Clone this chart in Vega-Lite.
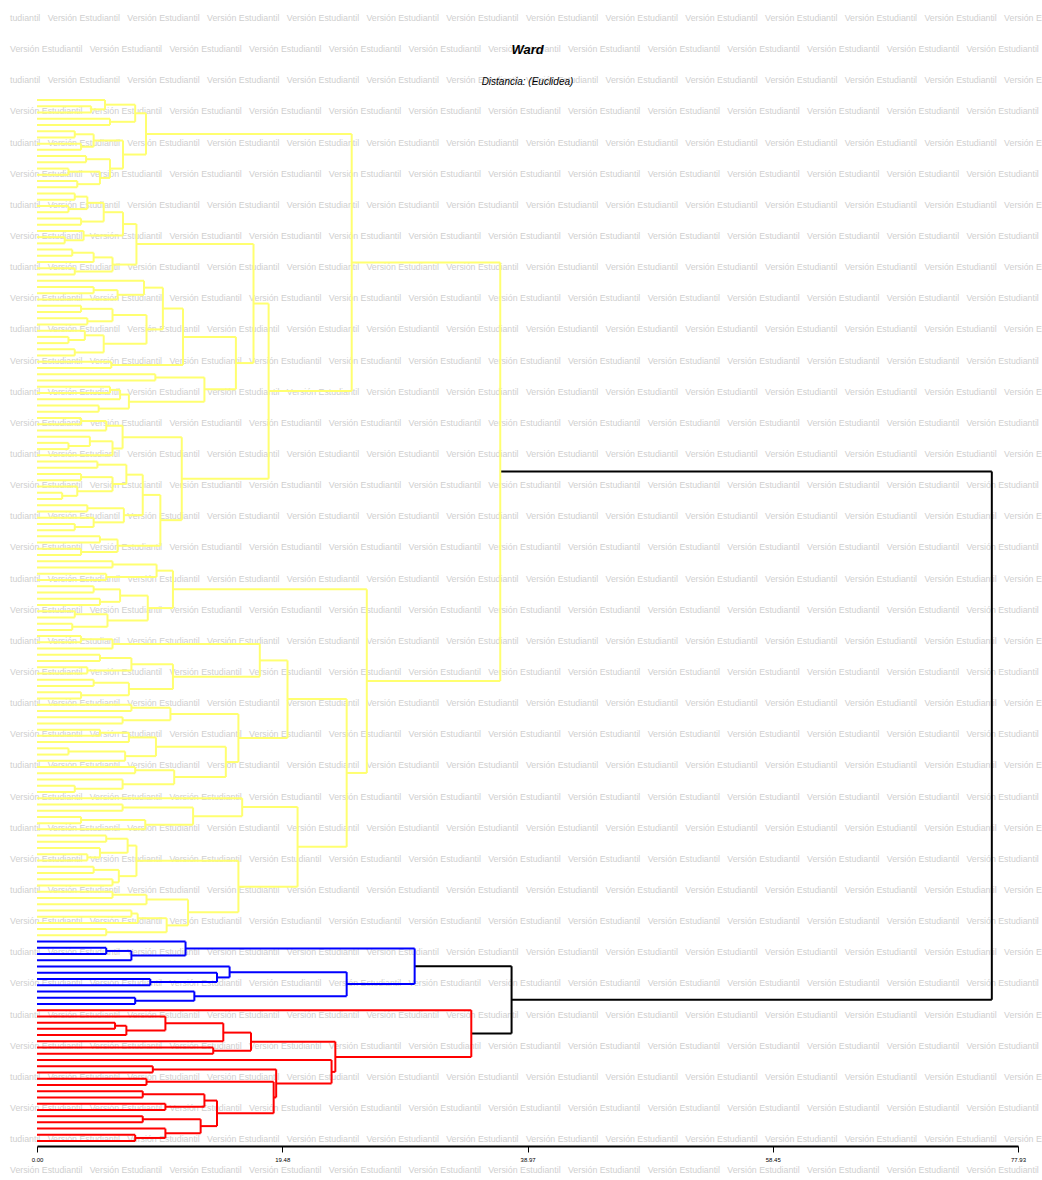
{
"$schema": "https://vega.github.io/schema/vega-lite/v6.json",
"width": 981,
"height": 1049,
"autosize": "none",
"padding": {"left": 37, "top": 97, "right": 24, "bottom": 34},
"background": "white",
"config": {"view": {"stroke": null}},
"title": {"text": "Ward", "subtitle": "Distancia: (Euclidea)", "anchor": "middle", "font": "Liberation Sans", "fontSize": 13, "fontStyle": "italic", "fontWeight": "bold", "color": "black", "subtitleFont": "Liberation Sans", "subtitleFontSize": 10, "subtitleFontStyle": "italic", "subtitleColor": "black", "offset": -73, "subtitlePadding": 20},
"datasets": {
"wmt": [
{"k": "e", "t": "\u00a0\u00a0tudiantil\u00a0\u00a0\u00a0Versión Estudiantil\u00a0\u00a0\u00a0Versión Estudiantil\u00a0\u00a0\u00a0Versión Estudiantil\u00a0\u00a0\u00a0Versión Estudiantil\u00a0\u00a0\u00a0Versión Estudiantil\u00a0\u00a0\u00a0Versión Estudiantil\u00a0\u00a0\u00a0Versión Estudiantil\u00a0\u00a0\u00a0Versión Estudiantil\u00a0\u00a0\u00a0Versión Estudiantil\u00a0\u00a0\u00a0Versión Estudiantil\u00a0\u00a0\u00a0Versión Estudiantil\u00a0\u00a0\u00a0Versión Estudiantil\u00a0\u00a0\u00a0Versión Estudiantil"},
{"k": "o", "t": "Versión Estudiantil\u00a0\u00a0\u00a0Versión Estudiantil\u00a0\u00a0\u00a0Versión Estudiantil\u00a0\u00a0\u00a0Versión Estudiantil\u00a0\u00a0\u00a0Versión Estudiantil\u00a0\u00a0\u00a0Versión Estudiantil\u00a0\u00a0\u00a0Versión Estudiantil\u00a0\u00a0\u00a0Versión Estudiantil\u00a0\u00a0\u00a0Versión Estudiantil\u00a0\u00a0\u00a0Versión Estudiantil\u00a0\u00a0\u00a0Versión Estudiantil\u00a0\u00a0\u00a0Versión Estudiantil\u00a0\u00a0\u00a0Versión Estudiantil\u00a0\u00a0\u00a0Versión Estudiantil"}
],
"wm": [
{"r":0,"k":"e"},{"r":1,"k":"o"},{"r":2,"k":"e"},{"r":3,"k":"o"},{"r":4,"k":"e"},{"r":5,"k":"o"},{"r":6,"k":"e"},{"r":7,"k":"o"},{"r":8,"k":"e"},{"r":9,"k":"o"},
{"r":10,"k":"e"},{"r":11,"k":"o"},{"r":12,"k":"e"},{"r":13,"k":"o"},{"r":14,"k":"e"},{"r":15,"k":"o"},{"r":16,"k":"e"},{"r":17,"k":"o"},{"r":18,"k":"e"},{"r":19,"k":"o"},
{"r":20,"k":"e"},{"r":21,"k":"o"},{"r":22,"k":"e"},{"r":23,"k":"o"},{"r":24,"k":"e"},{"r":25,"k":"o"},{"r":26,"k":"e"},{"r":27,"k":"o"},{"r":28,"k":"e"},{"r":29,"k":"o"},
{"r":30,"k":"e"},{"r":31,"k":"o"},{"r":32,"k":"e"},{"r":33,"k":"o"},{"r":34,"k":"e"},{"r":35,"k":"o"},{"r":36,"k":"e"},{"r":37,"k":"o"}
],
"tree": [
{"p":"root","y":59.6,"h":36.8,"q":75.85,"c":"k"},
{"p":"root","y":144.35,"h":37.7,"q":75.85,"c":"k"},
{"p":"BR","y":138.95,"h":30,"q":37.7,"c":"k"},
{"p":"BR","y":149.75,"h":34.5,"q":37.7,"c":"k"},
{"p":"Y","y":26.07,"h":25,"q":36.8,"c":"y"},
{"p":"Y","y":93.2,"h":26.2,"q":36.8,"c":"y"},
{"p":"U","y":5.44,"h":8.66,"q":25,"c":"y"},
{"p":"U","y":46.7,"h":18.4,"q":25,"c":"y"},
{"p":"U1","y":2.13,"h":7.8,"q":8.66,"c":"y"},
{"p":"U1","y":8.75,"h":6.83,"q":8.66,"c":"y"},
{"p":"U1a","y":0.75,"h":5.4,"q":7.8,"c":"y"},
{"p":"U1a","y":3.5,"h":5.8,"q":7.8,"c":"y"},
{"p":"U1a1","y":0,"h":0,"q":5.4,"c":"y"},
{"p":"U1a1","y":1.5,"h":4.3,"q":5.4,"c":"y"},
{"p":"U1a1b","y":1,"h":0,"q":4.3,"c":"y"},
{"p":"U1a1b","y":2,"h":0,"q":4.3,"c":"y"},
{"p":"U1a2","y":3,"h":0,"q":5.8,"c":"y"},
{"p":"U1a2","y":4,"h":0,"q":5.8,"c":"y"},
{"p":"U1b","y":6.5,"h":4.5,"q":6.83,"c":"y"},
{"p":"U1b","y":11,"h":5.8,"q":6.83,"c":"y"},
{"p":"U1b1","y":5.5,"h":3,"q":4.5,"c":"y"},
{"p":"U1b1","y":7.5,"h":3.5,"q":4.5,"c":"y"},
{"p":"U1b1a","y":5,"h":0,"q":3,"c":"y"},
{"p":"U1b1a","y":6,"h":0,"q":3,"c":"y"},
{"p":"U1b1b","y":7,"h":0,"q":3.5,"c":"y"},
{"p":"U1b1b","y":8,"h":0,"q":3.5,"c":"y"},
{"p":"U1b2","y":9.5,"h":3.9,"q":5.8,"c":"y"},
{"p":"U1b2","y":12.5,"h":5,"q":5.8,"c":"y"},
{"p":"U1b2a","y":9,"h":0,"q":3.9,"c":"y"},
{"p":"U1b2a","y":10,"h":0,"q":3.9,"c":"y"},
{"p":"U1b2b","y":11.5,"h":2.5,"q":5,"c":"y"},
{"p":"U1b2b","y":13.5,"h":3.2,"q":5,"c":"y"},
{"p":"U1b2b1","y":11,"h":0,"q":2.5,"c":"y"},
{"p":"U1b2b1","y":12,"h":0,"q":2.5,"c":"y"},
{"p":"U1b2b2","y":13,"h":0,"q":3.2,"c":"y"},
{"p":"U1b2b2","y":14,"h":0,"q":3.2,"c":"y"},
{"p":"U2","y":32.65,"h":17.2,"q":18.4,"c":"y"},
{"p":"U2","y":60.75,"h":11.5,"q":18.4,"c":"y"},
{"p":"U2a","y":23.1,"h":7.9,"q":17.2,"c":"y"},
{"p":"U2a","y":42.2,"h":15.8,"q":17.2,"c":"y"},
{"p":"U2a1","y":19.9,"h":6.83,"q":7.9,"c":"y"},
{"p":"U2a1","y":26.4,"h":6,"q":7.9,"c":"y"},
{"p":"A1","y":18,"h":5.3,"q":6.83,"c":"y"},
{"p":"A1","y":21.75,"h":3.7,"q":6.83,"c":"y"},
{"p":"A1a","y":16.5,"h":4,"q":5.3,"c":"y"},
{"p":"A1a","y":19.5,"h":3.5,"q":5.3,"c":"y"},
{"p":"A1a1","y":15.5,"h":3,"q":4,"c":"y"},
{"p":"A1a1","y":17.5,"h":2.5,"q":4,"c":"y"},
{"p":"A1a1a","y":15,"h":0,"q":3,"c":"y"},
{"p":"A1a1a","y":16,"h":0,"q":3,"c":"y"},
{"p":"A1a1b","y":17,"h":0,"q":2.5,"c":"y"},
{"p":"A1a1b","y":18,"h":0,"q":2.5,"c":"y"},
{"p":"A1a2","y":19,"h":0,"q":3.5,"c":"y"},
{"p":"A1a2","y":20,"h":0,"q":3.5,"c":"y"},
{"p":"A1b","y":21,"h":0,"q":3.7,"c":"y"},
{"p":"A1b","y":22.5,"h":2.2,"q":3.7,"c":"y"},
{"p":"A1b2","y":22,"h":0,"q":2.2,"c":"y"},
{"p":"A1b2","y":23,"h":0,"q":2.2,"c":"y"},
{"p":"A2","y":25.25,"h":4.5,"q":6,"c":"y"},
{"p":"A2","y":27.5,"h":3,"q":6,"c":"y"},
{"p":"A2a","y":24.5,"h":2.8,"q":4.5,"c":"y"},
{"p":"A2a","y":26,"h":0,"q":4.5,"c":"y"},
{"p":"A2a1","y":24,"h":0,"q":2.8,"c":"y"},
{"p":"A2a1","y":25,"h":0,"q":2.8,"c":"y"},
{"p":"A2b","y":27,"h":0,"q":3,"c":"y"},
{"p":"A2b","y":28,"h":0,"q":3,"c":"y"},
{"p":"U2a2","y":38,"h":11.6,"q":15.8,"c":"y"},
{"p":"U2a2","y":46.4,"h":13.3,"q":15.8,"c":"y"},
{"p":"X","y":33.45,"h":10,"q":11.6,"c":"y"},
{"p":"X","y":42.5,"h":5.9,"q":11.6,"c":"y"},
{"p":"X1","y":30.1,"h":8.5,"q":10,"c":"y"},
{"p":"X1","y":36.8,"h":8.7,"q":10,"c":"y"},
{"p":"X1a","y":29,"h":0,"q":8.5,"c":"y"},
{"p":"X1a","y":31.25,"h":6.4,"q":8.5,"c":"y"},
{"p":"X1a2","y":30.5,"h":4.5,"q":6.4,"c":"y"},
{"p":"X1a2","y":32,"h":0,"q":6.4,"c":"y"},
{"p":"X1a2a","y":30,"h":0,"q":4.5,"c":"y"},
{"p":"X1a2a","y":31,"h":0,"q":4.5,"c":"y"},
{"p":"X1b","y":34.5,"h":6,"q":8.7,"c":"y"},
{"p":"X1b","y":39.1,"h":5.3,"q":8.7,"c":"y"},
{"p":"X1b1","y":33.5,"h":3.5,"q":6,"c":"y"},
{"p":"X1b1","y":35.5,"h":4,"q":6,"c":"y"},
{"p":"X1b1a","y":33,"h":0,"q":3.5,"c":"y"},
{"p":"X1b1a","y":34,"h":0,"q":3.5,"c":"y"},
{"p":"X1b1b","y":35,"h":0,"q":4,"c":"y"},
{"p":"X1b1b","y":36,"h":0,"q":4,"c":"y"},
{"p":"X1b2","y":37.75,"h":3.8,"q":5.3,"c":"y"},
{"p":"X1b2","y":40.5,"h":3,"q":5.3,"c":"y"},
{"p":"X1b2a","y":37,"h":0,"q":3.8,"c":"y"},
{"p":"X1b2a","y":38.5,"h":2.5,"q":3.8,"c":"y"},
{"p":"X1b2a2","y":38,"h":0,"q":2.5,"c":"y"},
{"p":"X1b2a2","y":39,"h":0,"q":2.5,"c":"y"},
{"p":"X1b2b","y":40,"h":0,"q":3,"c":"y"},
{"p":"X1b2b","y":41,"h":0,"q":3,"c":"y"},
{"p":"X2","y":42,"h":0,"q":5.9,"c":"y"},
{"p":"X2","y":43,"h":0,"q":5.9,"c":"y"},
{"p":"W","y":44.5,"h":9.4,"q":13.3,"c":"y"},
{"p":"W","y":48.4,"h":7.3,"q":13.3,"c":"y"},
{"p":"W1","y":44,"h":0,"q":9.4,"c":"y"},
{"p":"W1","y":45,"h":0,"q":9.4,"c":"y"},
{"p":"W2","y":47.25,"h":6.6,"q":7.3,"c":"y"},
{"p":"W2","y":49.5,"h":4.9,"q":7.3,"c":"y"},
{"p":"W2a","y":46.5,"h":5.8,"q":6.6,"c":"y"},
{"p":"W2a","y":48,"h":0,"q":6.6,"c":"y"},
{"p":"W2a1","y":46,"h":0,"q":5.8,"c":"y"},
{"p":"W2a1","y":47,"h":0,"q":5.8,"c":"y"},
{"p":"W2b","y":49,"h":0,"q":4.9,"c":"y"},
{"p":"W2b","y":50,"h":0,"q":4.9,"c":"y"},
{"p":"U2b","y":54.1,"h":6.8,"q":11.5,"c":"y"},
{"p":"U2b","y":67.4,"h":9.8,"q":11.5,"c":"y"},
{"p":"U2b1","y":52.25,"h":5.5,"q":6.8,"c":"y"},
{"p":"U2b1","y":55.9,"h":6,"q":6.8,"c":"y"},
{"p":"U2b1a","y":51.5,"h":3.5,"q":5.5,"c":"y"},
{"p":"U2b1a","y":53,"h":0,"q":5.5,"c":"y"},
{"p":"U2b1a1","y":51,"h":0,"q":3.5,"c":"y"},
{"p":"U2b1a1","y":52,"h":0,"q":3.5,"c":"y"},
{"p":"U2b1b","y":54.75,"h":4.2,"q":6,"c":"y"},
{"p":"U2b1b","y":57,"h":0,"q":6,"c":"y"},
{"p":"U2b1b1","y":54,"h":0,"q":4.2,"c":"y"},
{"p":"U2b1b1","y":55.5,"h":2.5,"q":4.2,"c":"y"},
{"p":"U2b1b1b","y":55,"h":0,"q":2.5,"c":"y"},
{"p":"U2b1b1b","y":56,"h":0,"q":2.5,"c":"y"},
{"p":"U2b2","y":63.35,"h":8.4,"q":9.8,"c":"y"},
{"p":"U2b2","y":71.5,"h":6.4,"q":9.8,"c":"y"},
{"p":"U2b2a","y":60.1,"h":7.1,"q":8.4,"c":"y"},
{"p":"U2b2a","y":66.6,"h":6.9,"q":8.4,"c":"y"},
{"p":"V1","y":58.5,"h":4.8,"q":7.1,"c":"y"},
{"p":"V1","y":61.6,"h":6,"q":7.1,"c":"y"},
{"p":"V1a","y":58,"h":0,"q":4.8,"c":"y"},
{"p":"V1a","y":59,"h":0,"q":4.8,"c":"y"},
{"p":"V1b","y":60.5,"h":3.5,"q":6,"c":"y"},
{"p":"V1b","y":62.75,"h":3.2,"q":6,"c":"y"},
{"p":"V1b1","y":60,"h":0,"q":3.5,"c":"y"},
{"p":"V1b1","y":61,"h":0,"q":3.5,"c":"y"},
{"p":"V1b2","y":62,"h":0,"q":3.2,"c":"y"},
{"p":"V1b2","y":63.5,"h":2,"q":3.2,"c":"y"},
{"p":"V1b2b","y":63,"h":0,"q":2,"c":"y"},
{"p":"V1b2b","y":64,"h":0,"q":2,"c":"y"},
{"p":"V2","y":65.5,"h":4,"q":6.9,"c":"y"},
{"p":"V2","y":67.75,"h":4.5,"q":6.9,"c":"y"},
{"p":"V2a","y":65,"h":0,"q":4,"c":"y"},
{"p":"V2a","y":66,"h":0,"q":4,"c":"y"},
{"p":"V2b","y":67,"h":0,"q":4.5,"c":"y"},
{"p":"V2b","y":68.5,"h":3,"q":4.5,"c":"y"},
{"p":"V2b2","y":68,"h":0,"q":3,"c":"y"},
{"p":"V2b2","y":69,"h":0,"q":3,"c":"y"},
{"p":"U2b2b","y":70.5,"h":5,"q":6.4,"c":"y"},
{"p":"U2b2b","y":72.5,"h":3.5,"q":6.4,"c":"y"},
{"p":"V3a","y":70,"h":0,"q":5,"c":"y"},
{"p":"V3a","y":71,"h":0,"q":5,"c":"y"},
{"p":"V3b","y":72,"h":0,"q":3.5,"c":"y"},
{"p":"V3b","y":73,"h":0,"q":3.5,"c":"y"},
{"p":"L","y":78.5,"h":10.8,"q":26.2,"c":"y"},
{"p":"L","y":107.95,"h":24.6,"q":26.2,"c":"y"},
{"p":"L1","y":75.5,"h":9.5,"q":10.8,"c":"y"},
{"p":"L1","y":81.5,"h":8.8,"q":10.8,"c":"y"},
{"p":"L1a","y":74.5,"h":6,"q":9.5,"c":"y"},
{"p":"L1a","y":76.5,"h":5.5,"q":9.5,"c":"y"},
{"p":"L1a1","y":74,"h":0,"q":6,"c":"y"},
{"p":"L1a1","y":75,"h":0,"q":6,"c":"y"},
{"p":"L1a2","y":76,"h":0,"q":5.5,"c":"y"},
{"p":"L1a2","y":77,"h":0,"q":5.5,"c":"y"},
{"p":"L1b","y":79.5,"h":6.6,"q":8.8,"c":"y"},
{"p":"L1b","y":83.5,"h":5.6,"q":8.8,"c":"y"},
{"p":"L1b1","y":78.5,"h":4.5,"q":6.6,"c":"y"},
{"p":"L1b1","y":80.5,"h":5,"q":6.6,"c":"y"},
{"p":"L1b1a","y":78,"h":0,"q":4.5,"c":"y"},
{"p":"L1b1a","y":79,"h":0,"q":4.5,"c":"y"},
{"p":"L1b1b","y":80,"h":0,"q":5,"c":"y"},
{"p":"L1b1b","y":81,"h":0,"q":5,"c":"y"},
{"p":"L1b2","y":82.5,"h":3,"q":5.6,"c":"y"},
{"p":"L1b2","y":84.5,"h":2.8,"q":5.6,"c":"y"},
{"p":"L1b2a","y":82,"h":0,"q":3,"c":"y"},
{"p":"L1b2a","y":83,"h":0,"q":3,"c":"y"},
{"p":"L1b2b","y":84,"h":0,"q":2.8,"c":"y"},
{"p":"L1b2b","y":85,"h":0,"q":2.8,"c":"y"},
{"p":"L2","y":96.1,"h":19.9,"q":24.6,"c":"y"},
{"p":"L2","y":119.8,"h":20.7,"q":24.6,"c":"y"},
{"p":"L2a","y":89.9,"h":17.7,"q":19.9,"c":"y"},
{"p":"L2a","y":102.35,"h":16,"q":19.9,"c":"y"},
{"p":"L2a1","y":87.25,"h":6,"q":17.7,"c":"y"},
{"p":"L2a1","y":92.5,"h":10.8,"q":17.7,"c":"y"},
{"p":"M1","y":86.5,"h":3.5,"q":6,"c":"y"},
{"p":"M1","y":88,"h":0,"q":6,"c":"y"},
{"p":"M1a","y":86,"h":0,"q":3.5,"c":"y"},
{"p":"M1a","y":87,"h":0,"q":3.5,"c":"y"},
{"p":"M2","y":90.5,"h":7.5,"q":10.8,"c":"y"},
{"p":"M2","y":94.5,"h":7.3,"q":10.8,"c":"y"},
{"p":"M2a","y":89.5,"h":5,"q":7.5,"c":"y"},
{"p":"M2a","y":91.5,"h":4,"q":7.5,"c":"y"},
{"p":"M2a1","y":89,"h":0,"q":5,"c":"y"},
{"p":"M2a1","y":90,"h":0,"q":5,"c":"y"},
{"p":"M2a2","y":91,"h":0,"q":4,"c":"y"},
{"p":"M2a2","y":92,"h":0,"q":4,"c":"y"},
{"p":"M2b","y":93.5,"h":4.5,"q":7.3,"c":"y"},
{"p":"M2b","y":95.5,"h":3.5,"q":7.3,"c":"y"},
{"p":"M2b1","y":93,"h":0,"q":4.5,"c":"y"},
{"p":"M2b1","y":94,"h":0,"q":4.5,"c":"y"},
{"p":"M2b2","y":95,"h":0,"q":3.5,"c":"y"},
{"p":"M2b2","y":96,"h":0,"q":3.5,"c":"y"},
{"p":"L2a2","y":98.5,"h":10.6,"q":16,"c":"y"},
{"p":"L2a2","y":106.2,"h":15,"q":16,"c":"y"},
{"p":"N1","y":97.5,"h":7.5,"q":10.6,"c":"y"},
{"p":"N1","y":99.5,"h":6.8,"q":10.6,"c":"y"},
{"p":"N1a","y":97,"h":0,"q":7.5,"c":"y"},
{"p":"N1a","y":98,"h":0,"q":7.5,"c":"y"},
{"p":"N1b","y":99,"h":0,"q":6.8,"c":"y"},
{"p":"N1b","y":100,"h":0,"q":6.8,"c":"y"},
{"p":"N2","y":103.75,"h":9.45,"q":15,"c":"y"},
{"p":"N2","y":108.6,"h":10.9,"q":15,"c":"y"},
{"p":"N2a","y":102.25,"h":7.3,"q":9.45,"c":"y"},
{"p":"N2a","y":105.25,"h":7,"q":9.45,"c":"y"},
{"p":"N2a1","y":101.5,"h":5,"q":7.3,"c":"y"},
{"p":"N2a1","y":103,"h":0,"q":7.3,"c":"y"},
{"p":"N2a1a","y":101,"h":0,"q":5,"c":"y"},
{"p":"N2a1a","y":102,"h":0,"q":5,"c":"y"},
{"p":"N2a2","y":104.5,"h":2.5,"q":7,"c":"y"},
{"p":"N2a2","y":106,"h":0,"q":7,"c":"y"},
{"p":"N2a2a","y":104,"h":0,"q":2.5,"c":"y"},
{"p":"N2a2a","y":105,"h":0,"q":2.5,"c":"y"},
{"p":"N2b","y":107.5,"h":7.8,"q":10.9,"c":"y"},
{"p":"N2b","y":109.75,"h":6.8,"q":10.9,"c":"y"},
{"p":"N2b1","y":107,"h":0,"q":7.8,"c":"y"},
{"p":"N2b1","y":108,"h":0,"q":7.8,"c":"y"},
{"p":"N2b2","y":109,"h":0,"q":6.8,"c":"y"},
{"p":"N2b2","y":110.5,"h":3,"q":6.8,"c":"y"},
{"p":"N2b2b","y":110,"h":0,"q":3,"c":"y"},
{"p":"N2b2b","y":111,"h":0,"q":3,"c":"y"},
{"p":"L2b","y":113.4,"h":16.3,"q":20.7,"c":"y"},
{"p":"L2b","y":126.2,"h":16,"q":20.7,"c":"y"},
{"p":"O1","y":112,"h":0,"q":16.3,"c":"y"},
{"p":"O1","y":114.9,"h":12.4,"q":16.3,"c":"y"},
{"p":"O1b","y":113.5,"h":6.8,"q":12.4,"c":"y"},
{"p":"O1b","y":116.25,"h":8.6,"q":12.4,"c":"y"},
{"p":"O1b1","y":113,"h":0,"q":6.8,"c":"y"},
{"p":"O1b1","y":114,"h":0,"q":6.8,"c":"y"},
{"p":"O1b2","y":115.5,"h":3.5,"q":8.6,"c":"y"},
{"p":"O1b2","y":117,"h":0,"q":8.6,"c":"y"},
{"p":"O1b2a","y":115,"h":0,"q":3.5,"c":"y"},
{"p":"O1b2a","y":116,"h":0,"q":3.5,"c":"y"},
{"p":"O2","y":122.05,"h":7.9,"q":16,"c":"y"},
{"p":"O2","y":130.3,"h":12,"q":16,"c":"y"},
{"p":"O2a","y":119.6,"h":7.2,"q":7.9,"c":"y"},
{"p":"O2a","y":124.5,"h":6.5,"q":7.9,"c":"y"},
{"p":"O2a1","y":118.5,"h":5.5,"q":7.2,"c":"y"},
{"p":"O2a1","y":120.75,"h":5,"q":7.2,"c":"y"},
{"p":"O2a1a","y":118,"h":0,"q":5.5,"c":"y"},
{"p":"O2a1a","y":119,"h":0,"q":5.5,"c":"y"},
{"p":"O2a1b","y":120,"h":0,"q":5,"c":"y"},
{"p":"O2a1b","y":121.5,"h":4,"q":5,"c":"y"},
{"p":"O2a1b2","y":121,"h":0,"q":4,"c":"y"},
{"p":"O2a1b2","y":122,"h":0,"q":4,"c":"y"},
{"p":"O2a2","y":123.5,"h":4.5,"q":6.5,"c":"y"},
{"p":"O2a2","y":125.5,"h":6,"q":6.5,"c":"y"},
{"p":"O2a2a","y":123,"h":0,"q":4.5,"c":"y"},
{"p":"O2a2a","y":124,"h":0,"q":4.5,"c":"y"},
{"p":"O2a2b","y":125,"h":0,"q":6,"c":"y"},
{"p":"O2a2b","y":126,"h":0,"q":6,"c":"y"},
{"p":"O2b","y":128.25,"h":8.7,"q":12,"c":"y"},
{"p":"O2b","y":132.4,"h":10.3,"q":12,"c":"y"},
{"p":"O2b1","y":127.5,"h":6,"q":8.7,"c":"y"},
{"p":"O2b1","y":129,"h":0,"q":8.7,"c":"y"},
{"p":"O2b1a","y":127,"h":0,"q":6,"c":"y"},
{"p":"O2b1a","y":128,"h":0,"q":6,"c":"y"},
{"p":"O2b2","y":131.25,"h":8,"q":10.3,"c":"y"},
{"p":"O2b2","y":133.5,"h":5.5,"q":10.3,"c":"y"},
{"p":"O2b2a","y":130.5,"h":7.5,"q":8,"c":"y"},
{"p":"O2b2a","y":132,"h":0,"q":8,"c":"y"},
{"p":"O2b2a1","y":130,"h":0,"q":7.5,"c":"y"},
{"p":"O2b2a1","y":131,"h":0,"q":7.5,"c":"y"},
{"p":"O2b2b","y":133,"h":0,"q":5.5,"c":"y"},
{"p":"O2b2b","y":134,"h":0,"q":5.5,"c":"y"},
{"p":"B","y":136.1,"h":11.8,"q":30,"c":"b"},
{"p":"B","y":141.8,"h":24.6,"q":30,"c":"b"},
{"p":"Ba","y":135,"h":0,"q":11.8,"c":"b"},
{"p":"Ba","y":137.25,"h":7.5,"q":11.8,"c":"b"},
{"p":"Ba1","y":136.5,"h":5.5,"q":7.5,"c":"b"},
{"p":"Ba1","y":138,"h":0,"q":7.5,"c":"b"},
{"p":"Ba2","y":136,"h":0,"q":5.5,"c":"b"},
{"p":"Ba2","y":137,"h":0,"q":5.5,"c":"b"},
{"p":"Bb","y":139.9,"h":15.3,"q":24.6,"c":"b"},
{"p":"Bb","y":143.75,"h":12.5,"q":24.6,"c":"b"},
{"p":"Bb1","y":139,"h":0,"q":15.3,"c":"b"},
{"p":"Bb1","y":140.75,"h":14.3,"q":15.3,"c":"b"},
{"p":"Bb2","y":140,"h":0,"q":14.3,"c":"b"},
{"p":"Bb2","y":141.5,"h":9,"q":14.3,"c":"b"},
{"p":"Bb3","y":141,"h":0,"q":9,"c":"b"},
{"p":"Bb3","y":142,"h":0,"q":9,"c":"b"},
{"p":"Bb5","y":143,"h":0,"q":12.5,"c":"b"},
{"p":"Bb5","y":144.5,"h":7.8,"q":12.5,"c":"b"},
{"p":"Bb6","y":144,"h":0,"q":7.8,"c":"b"},
{"p":"Bb6","y":145,"h":0,"q":7.8,"c":"b"},
{"p":"R","y":146,"h":0,"q":34.5,"c":"r"},
{"p":"R","y":153.5,"h":23.7,"q":34.5,"c":"r"},
{"p":"Rx","y":151.05,"h":17,"q":23.7,"c":"r"},
{"p":"Rx","y":155.9,"h":23.4,"q":23.7,"c":"r"},
{"p":"Ra","y":149.6,"h":14.8,"q":17,"c":"r"},
{"p":"Ra","y":152.5,"h":14,"q":17,"c":"r"},
{"p":"Ra1","y":148.1,"h":10.2,"q":14.8,"c":"r"},
{"p":"Ra1","y":151,"h":0,"q":14.8,"c":"r"},
{"p":"Ra1a","y":147,"h":0,"q":10.2,"c":"r"},
{"p":"Ra1a","y":149.25,"h":7.1,"q":10.2,"c":"r"},
{"p":"Ra1b","y":148.5,"h":6.2,"q":7.1,"c":"r"},
{"p":"Ra1b","y":150,"h":0,"q":7.1,"c":"r"},
{"p":"Ra1c","y":148,"h":0,"q":6.2,"c":"r"},
{"p":"Ra1c","y":149,"h":0,"q":6.2,"c":"r"},
{"p":"Ra2","y":152,"h":0,"q":14,"c":"r"},
{"p":"Ra2","y":153,"h":0,"q":14,"c":"r"},
{"p":"Rb","y":154,"h":0,"q":23.4,"c":"r"},
{"p":"Rb","y":157.75,"h":19,"q":23.4,"c":"r"},
{"p":"Rc","y":155.5,"h":9.2,"q":19,"c":"r"},
{"p":"Rc","y":160,"h":18.8,"q":19,"c":"r"},
{"p":"Rd","y":155,"h":0,"q":9.2,"c":"r"},
{"p":"Rd","y":156,"h":0,"q":9.2,"c":"r"},
{"p":"Re","y":157.5,"h":8.7,"q":18.8,"c":"r"},
{"p":"Re","y":162.55,"h":14.3,"q":18.8,"c":"r"},
{"p":"Rf","y":157,"h":0,"q":8.7,"c":"r"},
{"p":"Rf","y":158,"h":0,"q":8.7,"c":"r"},
{"p":"Rq","y":160.5,"h":13.3,"q":14.3,"c":"r"},
{"p":"Rq","y":164.6,"h":13,"q":14.3,"c":"r"},
{"p":"Ri","y":159.5,"h":8.4,"q":13.3,"c":"r"},
{"p":"Ri","y":161.5,"h":10.2,"q":13.3,"c":"r"},
{"p":"Rs","y":159,"h":0,"q":8.4,"c":"r"},
{"p":"Rs","y":160,"h":0,"q":8.4,"c":"r"},
{"p":"Rk","y":161,"h":0,"q":10.2,"c":"r"},
{"p":"Rk","y":162,"h":0,"q":10.2,"c":"r"},
{"p":"Rj","y":163.5,"h":8.4,"q":13,"c":"r"},
{"p":"Rj","y":165.75,"h":10.2,"q":13,"c":"r"},
{"p":"Rn","y":163,"h":0,"q":8.4,"c":"r"},
{"p":"Rn","y":164,"h":0,"q":8.4,"c":"r"},
{"p":"Ro","y":165,"h":0,"q":10.2,"c":"r"},
{"p":"Ro","y":166.5,"h":7.8,"q":10.2,"c":"r"},
{"p":"Rp","y":166,"h":0,"q":7.8,"c":"r"},
{"p":"Rp","y":167,"h":0,"q":7.8,"c":"r"}
]
},
"layer": [
{
"data": {"name": "wm"},
"transform": [{"lookup": "k", "from": {"data": {"name": "wmt"}, "key": "k", "fields": ["t"]}}],
"mark": {"type": "text", "align": "left", "baseline": "middle", "dx": -27, "font": "Liberation Sans", "fontSize": 8.8, "color": "#cfcfcf"},
"encoding": {
"x": {"datum": 0, "type": "quantitative", "scale": {"domain": [0, 77.93], "nice": false, "zero": false}, "axis": {"values": [0, 19.48, 38.97, 58.45, 77.93], "format": ".2f", "title": null, "grid": false, "domainColor": "black", "domainWidth": 2, "tickColor": "black", "tickWidth": 1, "tickSize": 6, "labelFontSize": 6, "labelFont": "Liberation Sans", "labelColor": "black", "labelFlush": false, "labelPadding": 4}},
"y": {"field": "r", "type": "quantitative", "scale": {"domain": [2.537, 36.22], "reverse": true, "nice": false, "zero": false}, "axis": null},
"text": {"field": "t", "type": "nominal"}
}
},
{
"data": {"name": "tree"},
"layer": [
{
"mark": {"type": "rule", "strokeWidth": 2},
"encoding": {
"x": {"field": "h", "type": "quantitative", "scale": {"domain": [0, 77.93], "nice": false, "zero": false}, "axis": {"values": [0, 19.48, 38.97, 58.45, 77.93], "format": ".2f", "title": null, "grid": false, "domainColor": "black", "domainWidth": 2, "tickColor": "black", "tickWidth": 1, "tickSize": 6, "labelFontSize": 6, "labelFont": "Liberation Sans", "labelColor": "black", "labelFlush": false, "labelPadding": 4}},
"x2": {"field": "q"},
"y": {"field": "y", "type": "quantitative", "scale": {"domain": [-0.48, 167.79], "reverse": true, "nice": false, "zero": false}, "axis": null},
"color": {"field": "c", "type": "nominal", "scale": {"domain": ["y", "b", "r", "k"], "range": ["#FFFF70", "#0000FF", "#FF0000", "#000000"]}, "legend": null}
}
},
{
"transform": [{"aggregate": [{"op": "min", "field": "y", "as": "y1"}, {"op": "max", "field": "y", "as": "y2"}], "groupby": ["p", "q", "c"]}],
"mark": {"type": "rule", "strokeWidth": 2},
"encoding": {
"x": {"field": "q", "type": "quantitative", "scale": {"domain": [0, 77.93], "nice": false, "zero": false}, "axis": {"values": [0, 19.48, 38.97, 58.45, 77.93], "format": ".2f", "title": null, "grid": false, "domainColor": "black", "domainWidth": 2, "tickColor": "black", "tickWidth": 1, "tickSize": 6, "labelFontSize": 6, "labelFont": "Liberation Sans", "labelColor": "black", "labelFlush": false, "labelPadding": 4}},
"y": {"field": "y1", "type": "quantitative", "scale": {"domain": [-0.48, 167.79], "reverse": true, "nice": false, "zero": false}, "axis": null},
"y2": {"field": "y2"},
"color": {"field": "c", "type": "nominal", "scale": {"domain": ["y", "b", "r", "k"], "range": ["#FFFF70", "#0000FF", "#FF0000", "#000000"]}, "legend": null}
}
}
]
}
],
"resolve": {"scale": {"y": "independent"}}
}
